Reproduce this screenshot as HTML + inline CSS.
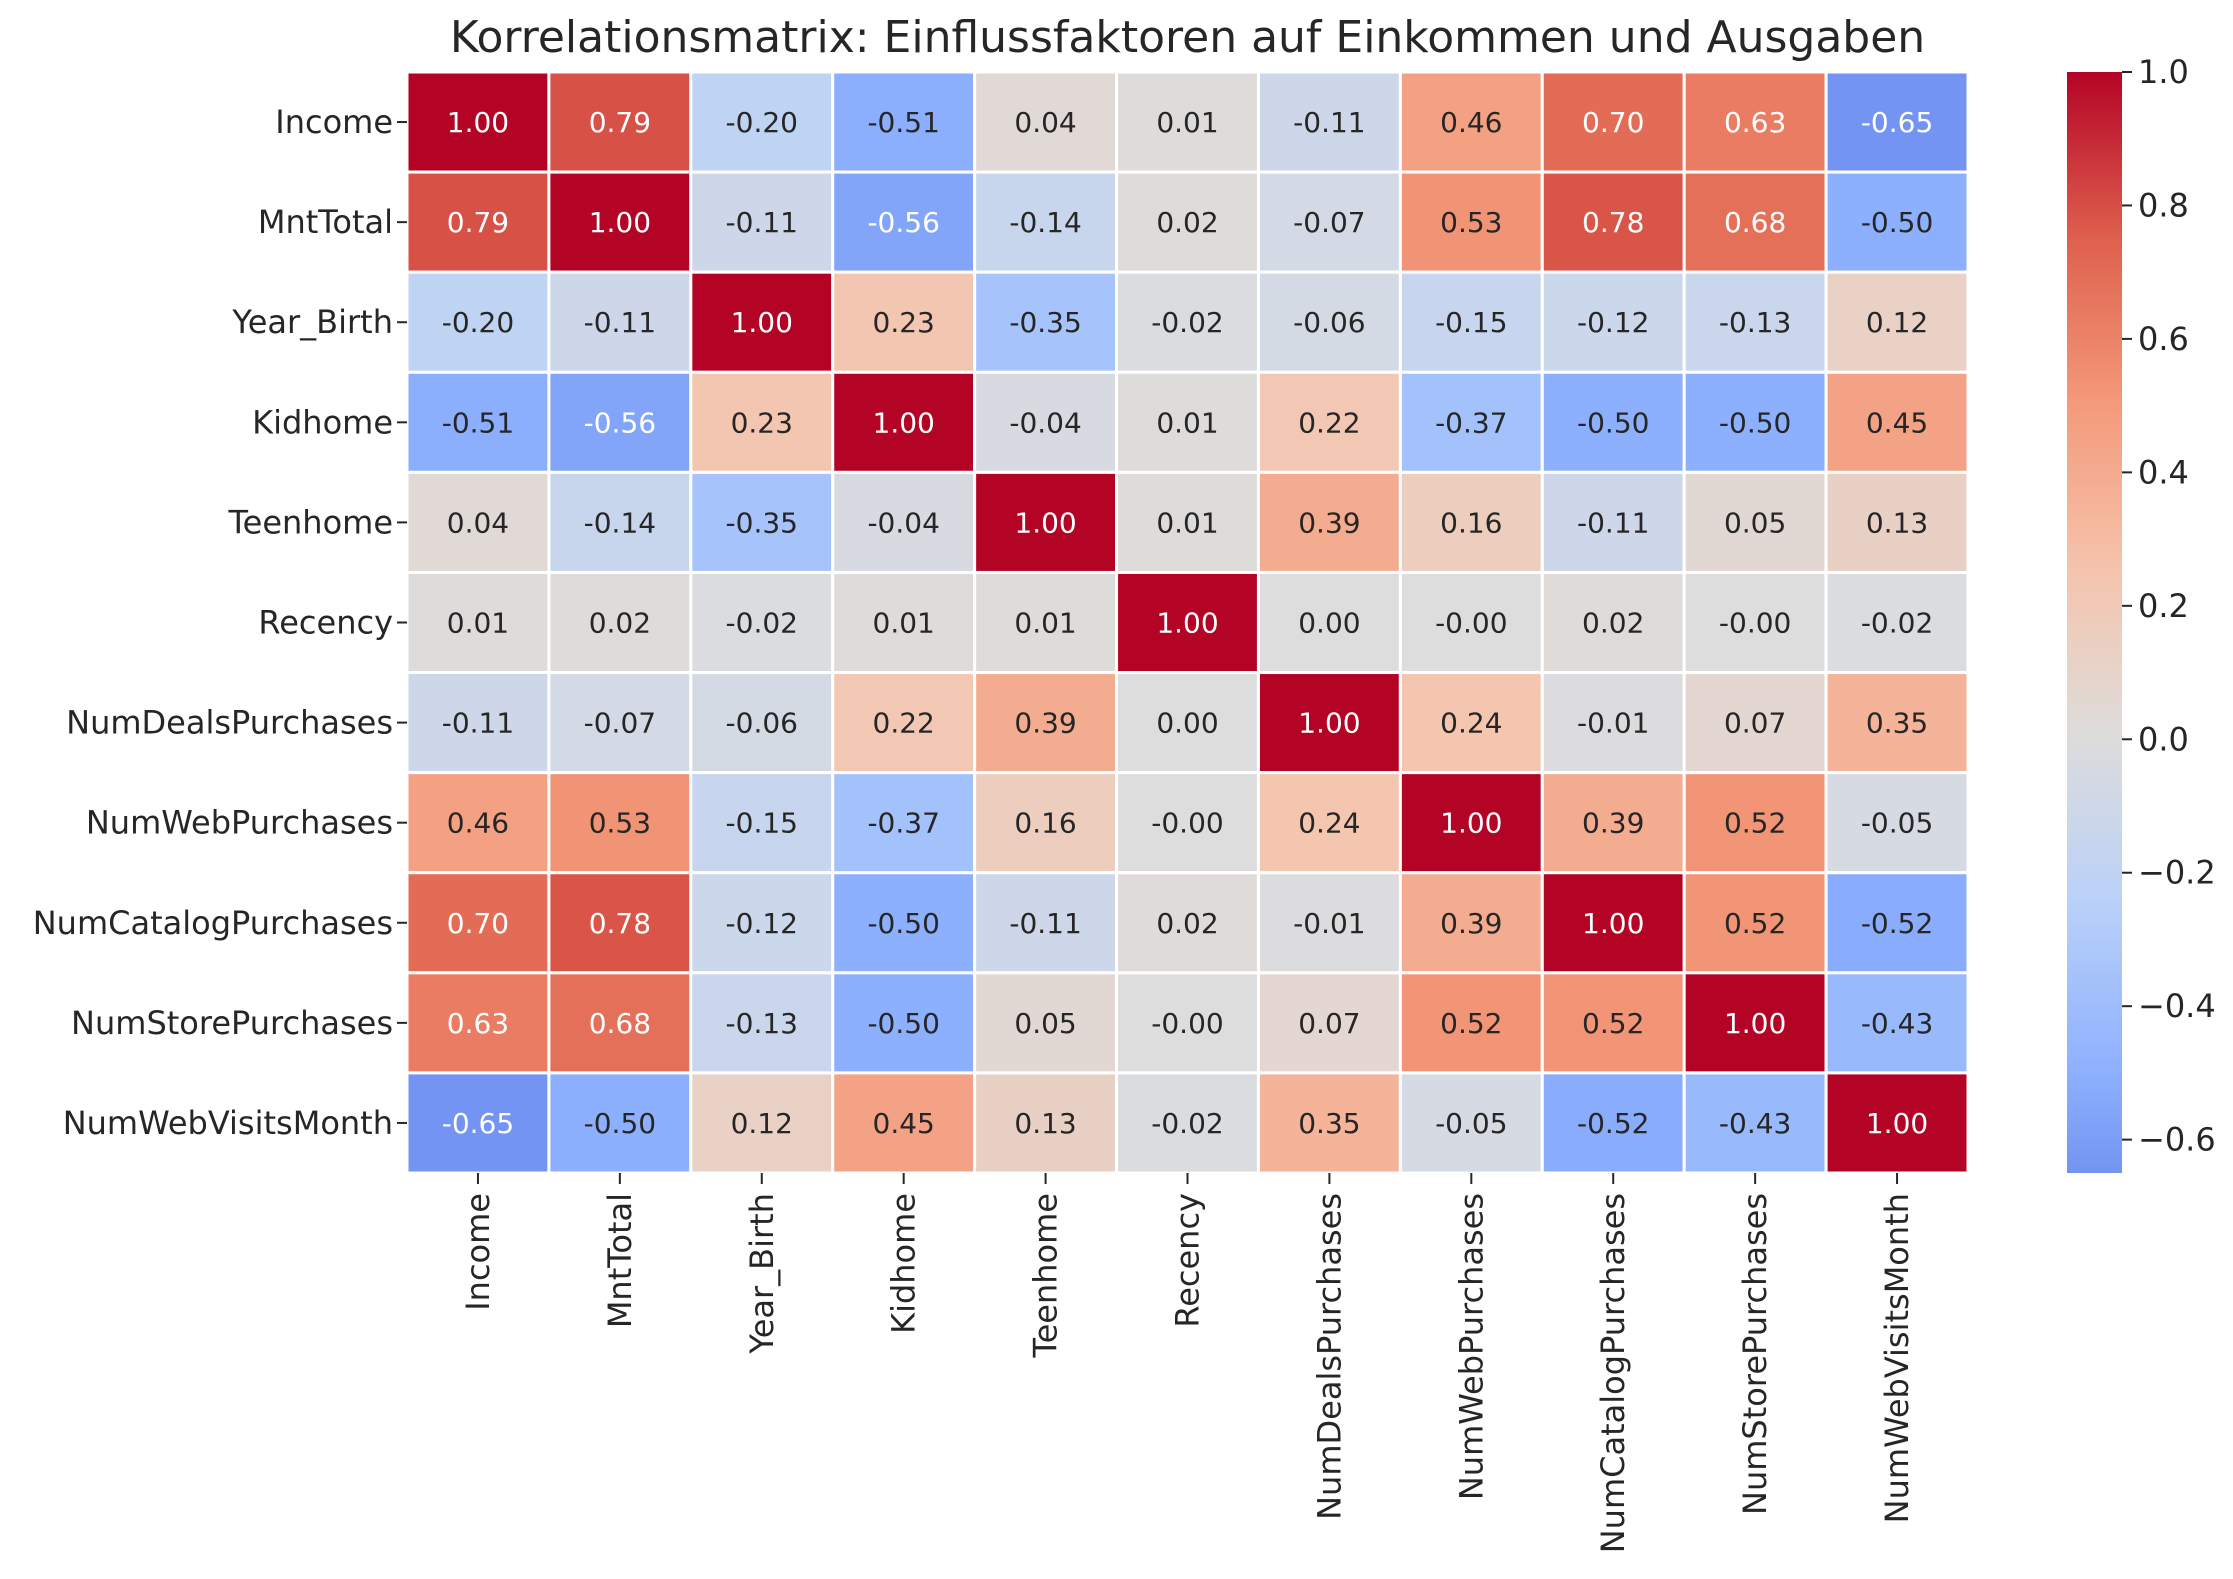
<!DOCTYPE html>
<html><head><meta charset="utf-8"><style>
body{margin:0;background:#fff;}
svg{display:block;font-family:"DejaVu Sans","Liberation Sans",sans-serif;}
</style></head><body>
<svg id="chart" width="2233" height="1579" viewBox="0 0 2233 1579"></svg>
<script>
const labels = ["Income","MntTotal","Year_Birth","Kidhome","Teenhome","Recency","NumDealsPurchases","NumWebPurchases","NumCatalogPurchases","NumStorePurchases","NumWebVisitsMonth"];
const row0 = [1.00,0.79,-0.20,-0.51,0.04,0.01,-0.11,0.46,0.70,0.63,-0.65];
const row1 = [0.79,1.00,-0.11,-0.56,-0.14,0.02,-0.07,0.53,0.78,0.68,-0.50];
const row2 = [-0.20,-0.11,1.00,0.23,-0.35,-0.02,-0.06,-0.15,-0.12,-0.13,0.12];
const row3 = [-0.51,-0.56,0.23,1.00,-0.04,0.01,0.22,-0.37,-0.50,-0.50,0.45];
const row4 = [0.04,-0.14,-0.35,-0.04,1.00,0.01,0.39,0.16,-0.11,0.05,0.13];
const row5 = [0.01,0.02,-0.02,0.01,0.01,1.00,0.00,-0.00,0.02,-0.00,-0.02];
const row6 = [-0.11,-0.07,-0.06,0.22,0.39,0.00,1.00,0.24,-0.01,0.07,0.35];
const row7 = [0.46,0.53,-0.15,-0.37,0.16,-0.00,0.24,1.00,0.39,0.52,-0.05];
const row8 = [0.70,0.78,-0.12,-0.50,-0.11,0.02,-0.01,0.39,1.00,0.52,-0.52];
const row9 = [0.63,0.68,-0.13,-0.50,0.05,-0.00,0.07,0.52,0.52,1.00,-0.43];
const row10 = [-0.65,-0.50,0.12,0.45,0.13,-0.02,0.35,-0.05,-0.52,-0.43,1.00];
const displayText = [
["1.00","0.79","-0.20","-0.51","0.04","0.01","-0.11","0.46","0.70","0.63","-0.65"],
["0.79","1.00","-0.11","-0.56","-0.14","0.02","-0.07","0.53","0.78","0.68","-0.50"],
["-0.20","-0.11","1.00","0.23","-0.35","-0.02","-0.06","-0.15","-0.12","-0.13","0.12"],
["-0.51","-0.56","0.23","1.00","-0.04","0.01","0.22","-0.37","-0.50","-0.50","0.45"],
["0.04","-0.14","-0.35","-0.04","1.00","0.01","0.39","0.16","-0.11","0.05","0.13"],
["0.01","0.02","-0.02","0.01","0.01","1.00","0.00","-0.00","0.02","-0.00","-0.02"],
["-0.11","-0.07","-0.06","0.22","0.39","0.00","1.00","0.24","-0.01","0.07","0.35"],
["0.46","0.53","-0.15","-0.37","0.16","-0.00","0.24","1.00","0.39","0.52","-0.05"],
["0.70","0.78","-0.12","-0.50","-0.11","0.02","-0.01","0.39","1.00","0.52","-0.52"],
["0.63","0.68","-0.13","-0.50","0.05","-0.00","0.07","0.52","0.52","1.00","-0.43"],
["-0.65","-0.50","0.12","0.45","0.13","-0.02","0.35","-0.05","-0.52","-0.43","1.00"]];
const matrix = [row0,row1,row2,row3,row4,row5,row6,row7,row8,row9,row10];
const cbTicks = [1.0,0.8,0.6,0.4,0.2,0.0,-0.2,-0.4,-0.6];
const cbTickLabels = ["1.0","0.8","0.6","0.4","0.2","0.0","\u22120.2","\u22120.4","\u22120.6"];

const NS="http://www.w3.org/2000/svg";
const svg=document.getElementById('chart');
const L=407,R=1968,T=72,B=1173;
const vmin=Math.min(...matrix.flat()),vmax=Math.max(...matrix.flat());
const span=Math.max(Math.abs(vmin),Math.abs(vmax));
const n=labels.length, cw=(R-L)/n, ch=(B-T)/n;
const xPos=i=>L+i*cw, yPos=i=>T+i*ch;
const anchors=[[59,76,192],[98,130,234],[141,176,254],[184,208,249],[221,221,221],[245,196,173],[244,154,123],[222,96,77],[180,4,38]];
function cmap(v){let t=(v+span)/(2*span);t=Math.max(0,Math.min(1,t));const p=t*8;const i=Math.min(7,Math.floor(p));const f=p-i;const a=anchors[i],b=anchors[i+1];return [0,1,2].map(k=>Math.round(a[k]+(b[k]-a[k])*f));}
function lum(c){const l=c.map(x=>{x/=255;return x<=0.03928?x/12.92:Math.pow((x+0.055)/1.055,2.4);});return 0.2126*l[0]+0.7152*l[1]+0.0722*l[2];}
function mk(tag,attrs,txt){const e=document.createElementNS(NS,tag);for(const k in attrs)e.setAttribute(k,attrs[k]);if(txt!==undefined)e.textContent=txt;svg.appendChild(e);return e;}

let e=mk('text',{x:(L+R)/2,y:52,'text-anchor':'middle','font-size':44,fill:'#262626'},"Korrelationsmatrix: Einflussfaktoren auf Einkommen und Ausgaben");



for(let r=0;r<n;r++){for(let c=0;c<n;c++){
 const v=matrix[r][c];const col=cmap(v);
 e=mk('rect',{x:xPos(c),y:yPos(r),width:cw,height:ch,fill:`rgb(${col})`,stroke:'#fff','stroke-width':3});
 
 
 const txt=(displayText[r][c]!==undefined && parseFloat(displayText[r][c])===parseFloat(v.toFixed(2)))?displayText[r][c]:v.toFixed(2);
 e=mk('text',{x:xPos(c)+cw/2,y:yPos(r)+ch/2+10,'text-anchor':'middle','font-size':28,fill:lum(col)>0.408?'#262626':'#fff'},txt);
 
 
}}
for(let i=0;i<n;i++){
 const yc=yPos(i)+ch/2;
 mk('line',{x1:L-10,x2:L,y1:yc,y2:yc,stroke:'#262626','stroke-width':2});
 e=mk('text',{x:L-14,y:yc+11,'text-anchor':'end','font-size':32,fill:'#262626'},labels[i]);
 
 
 const xc=xPos(i)+cw/2;
 mk('line',{x1:xc,x2:xc,y1:B,y2:B+11,stroke:'#262626','stroke-width':2});
 e=mk('text',{x:0,y:0,'text-anchor':'end','font-size':32,fill:'#262626',transform:`translate(${xc+11},${B+20}) rotate(-90)`},labels[i]);
 
 
}
const CL=2067,CR=2122;
const cbY=v=>T+(vmax-v)/(vmax-vmin)*(B-T);
const defs=mk('defs',{});
const g=document.createElementNS(NS,'linearGradient');g.setAttribute('id','cg');g.setAttribute('x1','0');g.setAttribute('y1','1');g.setAttribute('x2','0');g.setAttribute('y2','0');
for(let k=0;k<=20;k++){const v=vmin+(vmax-vmin)*k/20;const s=document.createElementNS(NS,'stop');s.setAttribute('offset',k/20);s.setAttribute('stop-color',`rgb(${cmap(v)})`);g.appendChild(s);}
defs.appendChild(g);
e=mk('rect',{x:CL,y:T,width:CR-CL,height:B-T,fill:'url(#cg)'});


cbTicks.forEach((t,i)=>{const y=cbY(t);
 mk('line',{x1:CR,x2:CR+10,y1:y,y2:y,stroke:'#262626','stroke-width':2});
 e=mk('text',{x:CR+16,y:y+11,'font-size':32,fill:'#262626'},cbTickLabels[i]);
 
 
});
</script>
</body></html>
